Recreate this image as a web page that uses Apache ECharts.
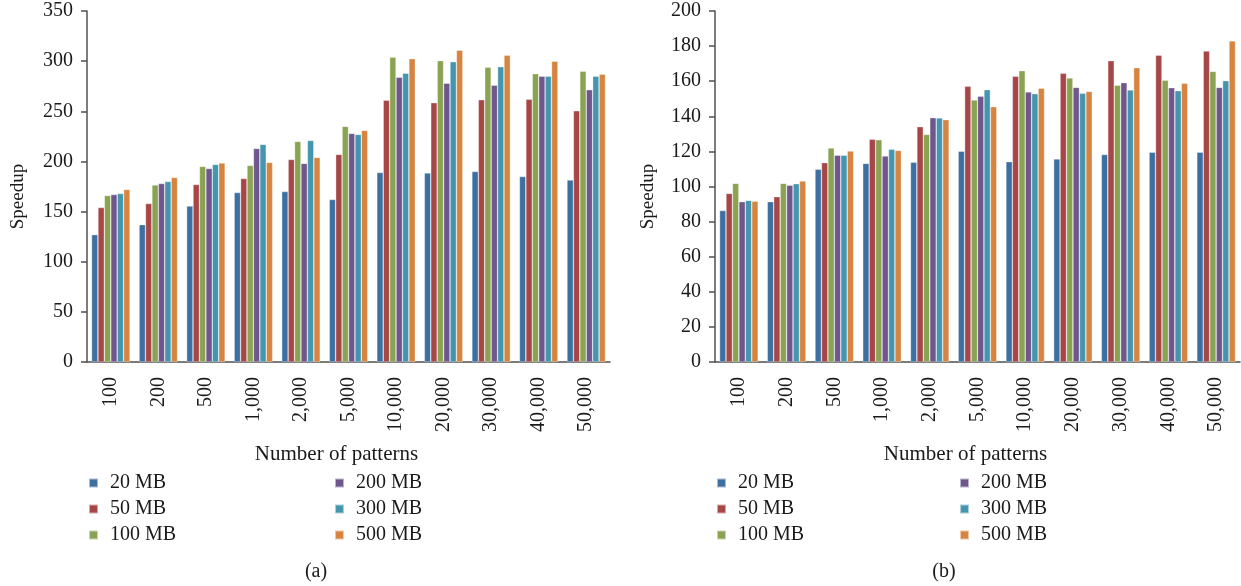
<!DOCTYPE html>
<html>
<head>
<meta charset="utf-8">
<script src="https://cdn.jsdelivr.net/npm/echarts@6/dist/echarts.min.js"></script>
<style>
  html, body { margin: 0; padding: 0; background: #fff; }
  #chart { width: 1241px; height: 586px; }
</style>
</head>
<body>
<div id="chart"></div>
<script>
// Pattern counts on the category axis
const categories = ['100', '200', '500', '1,000', '2,000', '5,000', '10,000', '20,000', '30,000', '40,000', '50,000'];
const seriesNames = ['20 MB', '50 MB', '100 MB', '200 MB', '300 MB', '500 MB'];

// (a) speedup per input size
const speedupA_20 = [127, 137, 155.5, 169, 170, 162, 189, 188.5, 190, 185, 181.5];
const speedupA_50 = [154, 158, 177, 183, 202, 207, 261, 258.5, 261.5, 262, 250.5];
const speedupA_100 = [166, 176.5, 195, 196, 220, 235, 304, 300.5, 294, 287.5, 290];
const speedupA_200 = [167, 178, 193, 213, 198, 228, 284, 278, 276, 285, 271.5];
const speedupA_300 = [168, 180, 197, 217, 221, 227, 288, 299.5, 294.5, 285, 285];
const speedupA_500 = [172, 184, 198.5, 199, 204, 231, 302.5, 311, 306, 300, 287];

// (b) speedup per input size
const speedupB_20 = [86.3, 91.4, 109.8, 113.2, 113.8, 120.1, 114.2, 115.7, 118.2, 119.5, 119.5];
const speedupB_50 = [96.1, 94.2, 113.6, 126.9, 134.1, 157.1, 162.8, 164.5, 171.7, 174.8, 177.2];
const speedupB_100 = [101.8, 101.8, 121.9, 126.7, 129.7, 149.3, 166, 161.8, 157.7, 160.5, 165.6];
const speedupB_200 = [91.4, 100.7, 117.8, 117.4, 139.2, 151.4, 153.9, 156.5, 159.2, 156.3, 156.5];
const speedupB_300 = [92.1, 101.6, 117.8, 121.2, 139.1, 155.2, 152.9, 153.1, 155, 154.6, 160.3];
const speedupB_500 = [91.6, 103.1, 120.2, 120.6, 138.1, 145.5, 156, 154.2, 167.7, 158.8, 183];

// Y axis ranges
const yMaxA = 350, yStepA = 50;
const yMaxB = 200, yStepB = 20;

const dataA = [speedupA_20, speedupA_50, speedupA_100, speedupA_200, speedupA_300, speedupA_500];
const dataB = [speedupB_20, speedupB_50, speedupB_100, speedupB_200, speedupB_300, speedupB_500];

const colors = ['#3E6FA1', '#A64646', '#89A352', '#6F578E', '#4396AD', '#D6843F'];
const FONT = '"Liberation Serif", "DejaVu Serif", serif';
const TXT = '#1a1a1a';
const AXIS = '#505050';

function xAxisFor(gridIndex) {
  return {
    type: 'category', gridIndex, data: categories,
    name: 'Number of patterns', nameLocation: 'middle', nameGap: 82,
    nameTextStyle: { fontFamily: FONT, fontSize: 21, color: TXT, padding: [0, 24, 0, 0] },
    axisLine: { lineStyle: { color: AXIS, width: 1.5 } },
    axisTick: { length: 5, lineStyle: { color: AXIS, width: 1.5 } },
    axisLabel: { rotate: 90, margin: 15, fontFamily: FONT, fontSize: 20, color: TXT }
  };
}

function yAxisFor(gridIndex, max, step, gap) {
  return {
    type: 'value', gridIndex, min: 0, max, interval: step,
    name: 'Speedup', nameLocation: 'middle', nameGap: gap,
    nameTextStyle: { fontFamily: FONT, fontSize: 19, color: TXT, padding: [0, 20, 0, 0] },
    axisLine: { show: true, lineStyle: { color: AXIS, width: 1.5 } },
    axisTick: { show: true, length: 6, lineStyle: { color: AXIS, width: 1.5 } },
    splitLine: { show: false },
    axisLabel: { margin: 14, fontFamily: FONT, fontSize: 20, color: TXT }
  };
}

function barSeries(data, axisIndex) {
  return data.map((vals, i) => ({
    name: seriesNames[i], type: 'bar',
    xAxisIndex: axisIndex, yAxisIndex: axisIndex,
    data: vals, barGap: '0%', barCategoryGap: '19%',
    itemStyle: { color: colors[i], borderColor: 'rgba(255,255,255,0.55)', borderWidth: 0.6 }
  }));
}

function legendCol(names, left) {
  return {
    orient: 'vertical', left, top: 468,
    data: names, icon: 'rect', itemWidth: 9, itemHeight: 9, itemGap: 6,
    selectedMode: false,
    textStyle: { fontFamily: FONT, fontSize: 20, color: TXT, lineHeight: 20, padding: [0, 0, 0, 7] }
  };
}

const chart = echarts.init(document.getElementById('chart'), null, { renderer: 'canvas' });
chart.setOption({
  animation: false,
  color: colors,
  grid: [
    { left: 87, top: 11, width: 523, height: 351 },
    { left: 715, top: 11, width: 525, height: 351 }
  ],
  xAxis: [xAxisFor(0), xAxisFor(1)],
  yAxis: [yAxisFor(0, yMaxA, yStepA, 59), yAxisFor(1, yMaxB, yStepB, 57)],
  legend: [
    legendCol(seriesNames.slice(0, 3), 83),
    legendCol(seriesNames.slice(3), 329),
    legendCol(seriesNames.slice(0, 3), 711),
    legendCol(seriesNames.slice(3), 954)
  ],
  title: [
    { text: '(a)', left: 311, top: 557, textAlign: 'center',
      textStyle: { fontFamily: FONT, fontSize: 20, fontWeight: 'normal', color: TXT } },
    { text: '(b)', left: 939, top: 557, textAlign: 'center',
      textStyle: { fontFamily: FONT, fontSize: 20, fontWeight: 'normal', color: TXT } }
  ],
  series: [...barSeries(dataA, 0), ...barSeries(dataB, 1)]
});
</script>
</body>
</html>
